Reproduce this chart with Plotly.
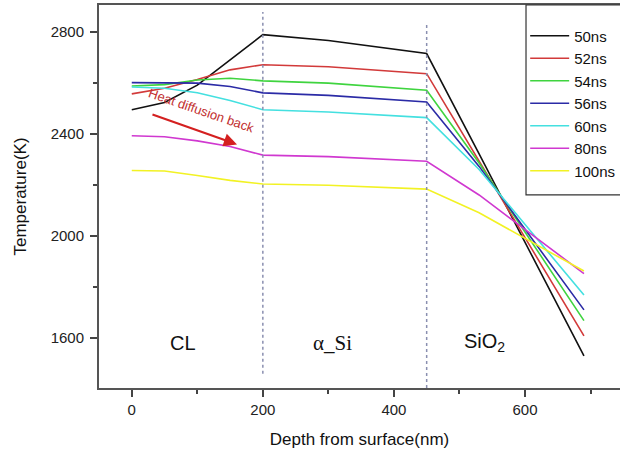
import plotly.graph_objects as go

depth = [0, 50, 100, 150, 200, 300, 450, 530, 690]
series_names = ["50ns", "52ns", "54ns", "56ns", "60ns", "80ns", "100ns"]
t50 = [2494, 2522, 2590, 2690, 2788, 2765, 2714, 2321, 1530]
t52 = [2556, 2578, 2612, 2650, 2670, 2662, 2635, 2293, 1608]
t54 = [2587, 2592, 2610, 2617, 2607, 2598, 2570, 2285, 1668]
t56 = [2600, 2600, 2598, 2585, 2560, 2550, 2524, 2272, 1710]
t60 = [2583, 2578, 2560, 2530, 2494, 2485, 2463, 2260, 1768]
t80 = [2392, 2388, 2372, 2350, 2316, 2310, 2292, 2160, 1852]
t100 = [2256, 2254, 2236, 2217, 2203, 2198, 2183, 2090, 1862]
series_values = [t50, t52, t54, t56, t60, t80, t100]
colors = ["#111111", "#d23a3a", "#3fd43f", "#2b2ba6", "#44e0e0", "#d038d0", "#f2f224"]

boundaries = [200, 450]
x_ticks = [0, 200, 400, 600]
y_ticks = [1600, 2000, 2400, 2800]

fig = go.Figure()
for name, vals, c in zip(series_names, series_values, colors):
    fig.add_trace(go.Scatter(x=depth, y=vals, mode="lines", name=name,
                             line=dict(color=c, width=1.6)))

# dotted layer boundaries
fig.add_shape(type="line", xref="x", yref="y", x0=boundaries[0], x1=boundaries[0],
              y0=1460, y1=2877, line=dict(color="#8a8fb0", width=1.5, dash="dot"))
fig.add_shape(type="line", xref="x", yref="y", x0=boundaries[1], x1=boundaries[1],
              y0=1404, y1=2826, line=dict(color="#8a8fb0", width=1.5, dash="dot"))

# legend frame
fig.add_shape(type="rect", xref="paper", yref="paper", x0=0.8196, x1=1.05,
              y0=0.504, y1=1.0, line=dict(color="#333333", width=1.2),
              fillcolor="rgba(0,0,0,0)", layer="above")

fig.add_annotation(x=78, y=1582, text="CL", showarrow=False,
                   font=dict(family="Liberation Sans, Arial", size=20, color="#111"))
fig.add_annotation(x=306, y=1582, text="α_Si", showarrow=False,
                   font=dict(family="Liberation Serif, Times New Roman", size=21, color="#111"))
fig.add_annotation(x=538, y=1582, text="SiO<sub>2</sub>", showarrow=False,
                   font=dict(family="Liberation Sans, Arial", size=20, color="#111"))
fig.add_annotation(x=106, y=2490, text="Heat diffusion back", showarrow=False,
                   textangle=19,
                   font=dict(family="Liberation Sans, Arial", size=13, color="#c23030"))
fig.add_annotation(x=160.6, y=2358, ax=29.3, ay=2477, axref="x", ayref="y",
                   xref="x", yref="y", text="", showarrow=True,
                   arrowhead=2, arrowsize=1.2, arrowwidth=2.2, arrowcolor="#d42020")

fig.update_layout(
    width=620, height=453,
    margin=dict(l=99, r=0, t=5, b=65, autoexpand=False),
    paper_bgcolor="white", plot_bgcolor="white",
    font=dict(family="Liberation Sans, Arial", color="#222"),
    showlegend=True,
    legend=dict(x=0.818, y=0.962, xanchor="left", yanchor="top",
                bgcolor="rgba(255,255,255,0)", borderwidth=0,
                font=dict(size=15, color="#111"), itemwidth=39,
                tracegroupgap=0),
    xaxis=dict(range=[-50, 745], tickvals=x_ticks, ticks="outside", ticklen=7,
               tickwidth=1.5, tickcolor="#444", showline=True, linecolor="#555",
               linewidth=2, mirror=True, showgrid=False, zeroline=False,
               tickfont=dict(size=15, color="#222"),
               minor=dict(tickvals=[100, 300, 500, 700], ticks="outside", ticklen=4,
                          tickwidth=1.5, tickcolor="#444", showgrid=False),
               title=dict(text="Depth from surface(nm)", font=dict(size=17, color="#111"),
                          standoff=16)),
    yaxis=dict(range=[1404, 2904], tickvals=y_ticks, ticks="outside", ticklen=7,
               tickwidth=1.5, tickcolor="#444", showline=True, linecolor="#555",
               linewidth=2, mirror=False, showgrid=False, zeroline=False,
               tickfont=dict(size=15, color="#222"), ticklabelstandoff=3,
               minor=dict(tickvals=[1800, 2200, 2600], ticks="outside", ticklen=4,
                          tickwidth=1.5, tickcolor="#444", showgrid=False),
               title=dict(text="Temperature(K)", font=dict(size=17, color="#111"),
                          standoff=20)),
)

fig.write_html("out.html", config={"displayModeBar": False},
               post_script="document.body.style.margin='0';")
